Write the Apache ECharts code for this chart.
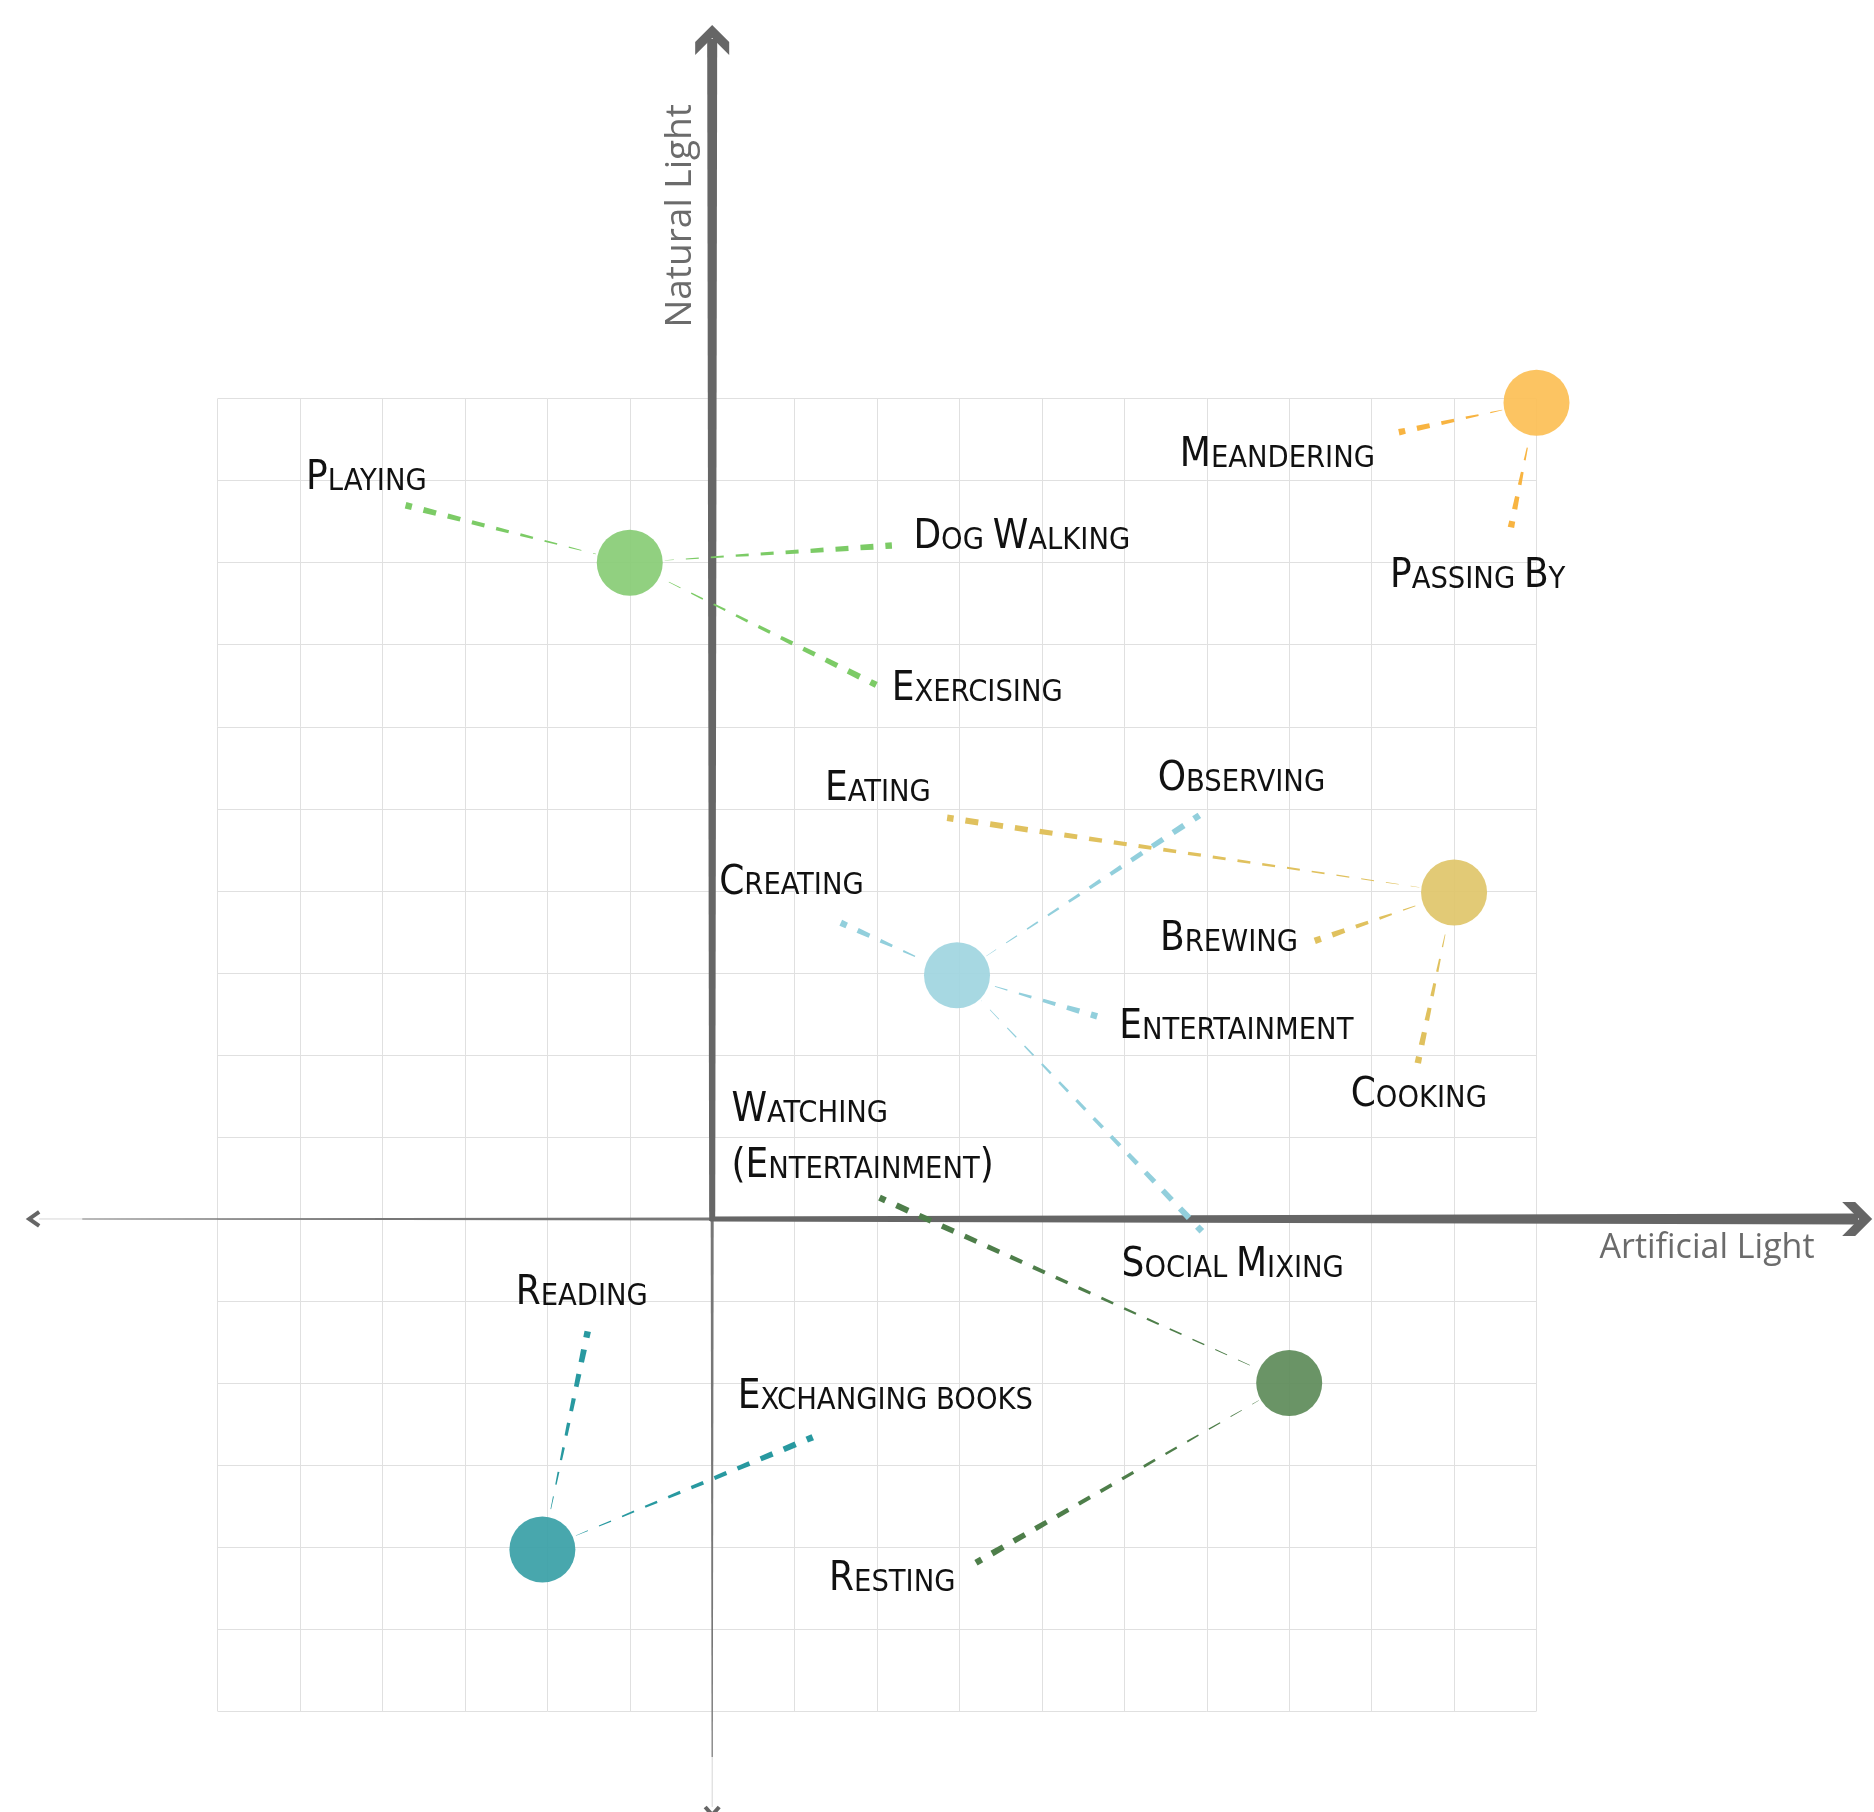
<!DOCTYPE html>
<html><head><meta charset="utf-8">
<script src="https://cdn.jsdelivr.net/npm/echarts@6/dist/echarts.min.js"></script>
<style>html,body{margin:0;padding:0;background:#fff}#chart{width:1874px;height:1812px}</style>
</head><body><div id="chart"></div>
<script>
// ---------- data ----------
// cluster (hub) centres
const hubX = [-1, 10, 9, 2.97, 7, -2.06];
const hubY = [8, 9.95, 3.98, 2.97, -2, -4.03];
// activities, the hub they belong to, and where each spoke ends
const activities = ['Playing', 'Dog Walking', 'Exercising', 'Meandering', 'Passing By', 'Eating', 'Brewing', 'Cooking',
  'Observing', 'Creating', 'Entertainment', 'Social Mixing', 'Watching\n(Entertainment)', 'Resting', 'Reading', 'Exchanging books'];
const activityHub = [0, 0, 0, 1, 1, 2, 2, 2, 3, 3, 3, 3, 4, 4, 5, 5];
const activityX = [-3.72, 2.18, 1.99, 8.33, 9.69, 2.85, 7.31, 8.56, 5.91, 1.56, 4.67, 5.94, 2.03, 3.2, -1.51, 1.22];
const activityY = [8.70, 8.21, 6.51, 9.59, 8.43, 4.89, 3.39, 1.90, 4.92, 3.61, 2.47, -0.15, 0.26, -4.19, -1.37, -2.66];
// axes
const axisMin = -6, axisMax = 10, axisStep = 1;
const xAxisName = 'Artificial Light';
const yAxisName = 'Natural Light';

// ---------- styles / layout ----------
const hubColors = ['#88cc75', '#fcbf55', '#dfc56a', '#9fd5e0', '#5d8b59', '#38a0a6'];
const linkColors = ['#7ccb66', '#f8b441', '#e0c15e', '#92cfdc', '#4e7e4a', '#2899a0'];
// [align, dx, dy of last baseline] in px relative to spoke end
const labelLayout = [
  ['left', -99.5, -12.7], ['left', 21.5, 6], ['left', 15.5, 19], ['right', -23.9, 37.2], ['center', -33.3, 63.3],
  ['right', -16.3, -14.4], ['right', -16.7, 13], ['center', 1, 46.6], ['left', -41.6, -21.7], ['left', -121.6, -25.7],
  ['left', 22, 25.6], ['left', -80.3, 48.4], ['left', -148.1, -17.3], ['left', -146.9, 31], ['center', -6, -23.7], ['left', -75, -25.5]
];
const LABEL_FONT = '"Liberation Sans Narrow", "DejaVu Sans Condensed", "Arial Narrow", sans-serif';
const BIG = 40, SMALL = 30.5, BASE_K = 0.35;
const HUB_R = 33, DASH = 13, GAP = 12, W_MIN = 0.3, W_MAX = 6.5;
const AXIS_GEOM = { right: 1160, left: 685, up: 1194, down: 598 };

function smallCaps(text) {
  return text.split('\n').map(line => {
    let out = '', cur = '', curStyle = null;
    for (const ch of line) {
      const isLower = /[a-z]/.test(ch);
      const st = (isLower || ch === ' ') ? 's' : 'b';
      const c = isLower ? ch.toUpperCase() : ch;
      if (st !== curStyle && cur) { out += '{' + curStyle + '|' + cur + '}'; cur = ''; }
      curStyle = st; cur += c;
    }
    if (cur) out += '{' + curStyle + '|' + cur + '}';
    return out;
  }).join('\n');
}

function taper(p1, p2, color) {
  const dx = p2[0] - p1[0], dy = p2[1] - p1[1], L = Math.hypot(dx, dy);
  const ux = dx / L, uy = dy / L, nx = -uy, ny = ux;
  const w = s => W_MIN + (W_MAX - W_MIN) * Math.max(0, (s - HUB_R) / (L - HUB_R));
  const pt = (s, off) => [p1[0] + ux * s + nx * off, p1[1] + uy * s + ny * off];
  const out = [];
  let s = L, len = DASH * 0.5;
  while (s > HUB_R + 2) {
    const s0 = Math.max(s - len, HUB_R + 2);
    const w0 = w(s0) / 2, w1 = w(s) / 2;
    out.push({ type: 'polygon', shape: { points: [pt(s0, w0), pt(s, w1), pt(s, -w1), pt(s0, -w0)] }, style: { fill: color } });
    s = s0 - GAP; len = DASH;
  }
  return out;
}

function renderLink(params, api) {
  const i = params.dataIndex;
  const p1 = api.coord([api.value(0), api.value(1)]);
  const p2 = api.coord([api.value(2), api.value(3)]);
  const children = taper(p1, p2, linkColors[activityHub[i]]);
  const lay = labelLayout[i];
  const multi = activities[i].indexOf('\n') >= 0;
  const LH = multi ? 55.4 : 40;
  children.push({
    type: 'text',
    x: p2[0] + lay[1],
    y: p2[1] + lay[2] + LH / 2 - BASE_K * SMALL,
    style: {
      text: smallCaps(activities[i]),
      align: lay[0], verticalAlign: 'bottom', fill: '#111',
      rich: {
        b: { font: BIG + 'px ' + LABEL_FONT, fill: '#111', lineHeight: LH, padding: [0, 0, 2 * BASE_K * (BIG - SMALL), 0] },
        s: { font: SMALL + 'px ' + LABEL_FONT, fill: '#111', lineHeight: LH }
      }
    }
  });
  return { type: 'group', children };
}

function renderAxes(params, api) {
  const o = api.coord([api.value(0), api.value(1)]);
  const ox = o[0], oy = o[1], g = AXIS_GEOM, c = '#666';
  const ty = oy - g.up, rx = ox + g.right, lx = ox - g.left, by = oy + g.down;
  return {
    type: 'group', children: [
      { type: 'polygon', shape: { points: [[ox - 1.5, oy], [ox + 1.5, oy], [ox + 0.6, by - 60], [ox - 0.6, by - 60]] }, style: { fill: '#777' } },
      { type: 'line', shape: { x1: ox, y1: by - 60, x2: ox, y2: by - 10 }, style: { stroke: '#d6d6d6', lineWidth: 1 } },
      { type: 'polyline', shape: { points: [[ox - 7, by - 10], [ox, by - 2], [ox + 7, by - 10]] }, style: { stroke: c, lineWidth: 4, fill: 'none' } },
      { type: 'polygon', shape: { points: [[ox, oy - 1.6], [ox, oy + 1.6], [lx + 55, oy + 0.6], [lx + 55, oy - 0.6]] }, style: { fill: '#777' } },
      { type: 'line', shape: { x1: lx + 55, y1: oy, x2: lx + 12, y2: oy }, style: { stroke: '#d6d6d6', lineWidth: 1 } },
      { type: 'polyline', shape: { points: [[lx + 12, oy - 7], [lx + 2, oy], [lx + 12, oy + 7]] }, style: { stroke: c, lineWidth: 4, fill: 'none' } },
      { type: 'polygon', shape: { points: [[ox - 3, oy + 2], [ox + 3, oy + 2], [ox + 5, ty + 14], [ox - 5, ty + 14]] }, style: { fill: c } },
      { type: 'polygon', shape: { points: [[ox, ty], [ox + 17, ty + 17], [ox + 17, ty + 30], [ox, ty + 13], [ox - 17, ty + 30], [ox - 17, ty + 17]] }, style: { fill: c } },
      { type: 'polygon', shape: { points: [[ox - 2, oy - 2.5], [ox - 2, oy + 2.5], [rx - 14, oy + 5.5], [rx - 14, oy - 5.5]] }, style: { fill: c } },
      { type: 'polygon', shape: { points: [[rx, oy], [rx - 17, oy - 17], [rx - 30, oy - 17], [rx - 13, oy], [rx - 30, oy + 17], [rx - 17, oy + 17]] }, style: { fill: c } }
    ]
  };
}

const chart = echarts.init(document.getElementById('chart'), null, { renderer: 'canvas' });
const axisCommon = {
  type: 'value', min: axisMin, max: axisMax, interval: axisStep,
  axisLine: { show: false, onZero: true }, axisTick: { show: false }, axisLabel: { show: false },
  splitLine: { show: true, lineStyle: { color: '#e0e0e0', width: 1 } },
  nameLocation: 'end', nameMoveOverlap: false
};
chart.setOption({
  animation: false,
  backgroundColor: '#fff',
  grid: { left: 217.6, top: 398.6, width: 1318.9, height: 1312.6, containLabel: false, outerBoundsMode: 'none' },
  xAxis: Object.assign({}, axisCommon, {
    name: xAxisName, nameGap: 63,
    nameTextStyle: { color: '#6b6b6b', fontFamily: 'Open Sans', fontSize: 34, align: 'left', verticalAlign: 'top', lineHeight: 58 }
  }),
  yAxis: Object.assign({}, axisCommon, {
    name: yAxisName, nameGap: 71, nameRotate: 90,
    nameTextStyle: { color: '#6b6b6b', fontFamily: 'Open Sans', fontSize: 37, align: 'left', verticalAlign: 'bottom', lineHeight: 63 }
  }),
  series: [
    { type: 'custom', name: 'axes', silent: true, z: 2, clip: false, data: [[0, 0]], encode: { x: 0, y: 1 }, renderItem: renderAxes },
    {
      type: 'custom', name: 'spokes', silent: true, z: 3, clip: false,
      data: activities.map((a, i) => [hubX[activityHub[i]], hubY[activityHub[i]], activityX[i], activityY[i]]),
      encode: { x: [0, 2], y: [1, 3] }, renderItem: renderLink
    },
    {
      type: 'scatter', name: 'hubs', z: 4, symbolSize: 66,
      data: hubX.map((x, i) => [x, hubY[i]]),
      itemStyle: { color: p => hubColors[p.dataIndex], opacity: 0.92 }
    }
  ]
});
</script></body></html>
